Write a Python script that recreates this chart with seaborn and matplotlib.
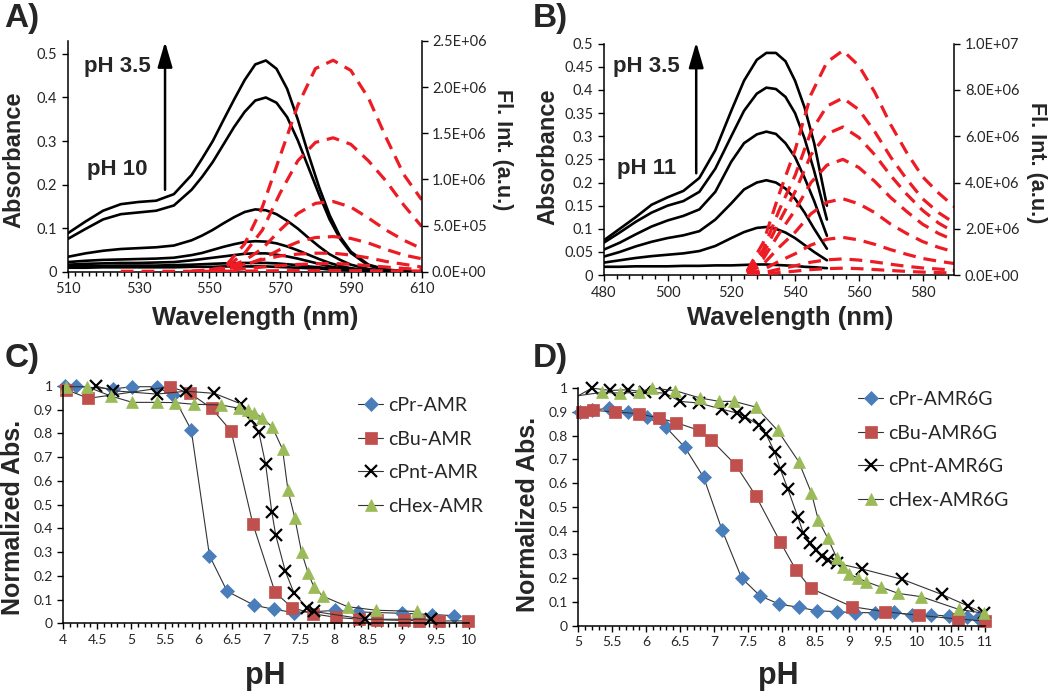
import numpy as np
import matplotlib
matplotlib.use("Agg")
import matplotlib.pyplot as plt
from matplotlib.lines import Line2D
from matplotlib.ticker import MultipleLocator, FuncFormatter
import seaborn as sns

# ---------------- Panel A: absorbance / emission spectra ----------------
wl_a = [510, 515, 520, 525, 530, 535, 540,
        545, 548, 551, 554, 557, 560, 563, 566, 569, 572, 575, 578, 581, 584, 587, 590,
        595, 600, 605, 610]
abs_a = [
    [0.088, 0.115, 0.140, 0.155, 0.160, 0.163, 0.178,
     0.222, 0.260, 0.300, 0.348, 0.395, 0.440, 0.476, 0.485, 0.466, 0.420, 0.350,
     0.270, 0.195, 0.130, 0.080, 0.046, 0.016, 0.005, 0.001, 0.0],
    [0.075, 0.098, 0.120, 0.132, 0.136, 0.140, 0.152,
     0.188, 0.218, 0.252, 0.292, 0.332, 0.367, 0.393, 0.400, 0.388, 0.355, 0.302,
     0.240, 0.178, 0.120, 0.075, 0.043, 0.014, 0.004, 0.001, 0.0],
    [0.034, 0.042, 0.048, 0.052, 0.054, 0.056, 0.060,
     0.072, 0.083, 0.096, 0.111, 0.125, 0.137, 0.143, 0.141, 0.132, 0.117, 0.099,
     0.078, 0.058, 0.040, 0.027, 0.016, 0.006, 0.002, 0.001, 0.0],
    [0.022, 0.025, 0.027, 0.028, 0.029, 0.030, 0.032,
     0.038, 0.043, 0.050, 0.057, 0.063, 0.068, 0.070, 0.069, 0.065, 0.058, 0.049,
     0.039, 0.029, 0.020, 0.013, 0.008, 0.003, 0.001, 0.0, 0.0],
    [0.016, 0.018, 0.019, 0.020, 0.020, 0.021, 0.022,
     0.026, 0.029, 0.032, 0.035, 0.038, 0.041, 0.042, 0.042, 0.039, 0.035, 0.030,
     0.024, 0.018, 0.012, 0.008, 0.005, 0.002, 0.001, 0.0, 0.0],
    [0.012, 0.013, 0.013, 0.014, 0.014, 0.014, 0.015,
     0.016, 0.017, 0.018, 0.019, 0.019, 0.020, 0.020, 0.020, 0.019, 0.017, 0.015,
     0.012, 0.010, 0.007, 0.005, 0.004, 0.002, 0.001, 0.0, 0.0],
    [0.009, 0.009, 0.010, 0.010, 0.010, 0.010, 0.010,
     0.011, 0.011, 0.011, 0.012, 0.012, 0.012, 0.012, 0.012, 0.011, 0.010, 0.009,
     0.008, 0.007, 0.005, 0.004, 0.003, 0.001, 0.0, 0.0, 0.0],
]
fl_wl_a = [525, 530, 535, 540, 545, 550, 555, 560, 565, 570, 575,
           580, 585, 590, 595, 600, 605, 610]
N = None
fl_a = [  # x 1e6
    [N, N, N, N, N, N, 0.08, 0.30, 0.70, 1.25, 1.80, 2.20, 2.29, 2.18, 1.88, 1.45, 1.05, 0.78],
    [N, N, N, N, N, N, 0.06, 0.20, 0.45, 0.85, 1.20, 1.40, 1.45, 1.38, 1.20, 0.98, 0.72, 0.49],
    [N, N, N, N, N, 0.02, 0.05, 0.12, 0.25, 0.45, 0.63, 0.74, 0.76, 0.70, 0.58, 0.45, 0.34, 0.25],
    [N, N, N, N, N, 0.01, 0.03, 0.07, 0.14, 0.24, 0.32, 0.37, 0.38, 0.36, 0.31, 0.24, 0.18, 0.14],
    [N, N, N, N, 0.005, 0.02, 0.04, 0.08, 0.13, 0.17, 0.19, 0.20, 0.20, 0.18, 0.15, 0.11, 0.08, 0.05],
    [N, N, N, N, 0.003, 0.008, 0.015, 0.03, 0.05, 0.065, 0.078, 0.085, 0.088, 0.08, 0.065, 0.05, 0.035, 0.022],
    [0.004, 0.004, 0.004, 0.004, 0.004, 0.004, 0.005, 0.006, 0.008, 0.010, 0.011,
     0.012, 0.012, 0.011, 0.010, 0.009, 0.008, 0.007],
]

# ---------------- Panel B ----------------
wl_b = [480, 485, 490, 495, 500, 505, 510, 515, 520, 524, 528,
        531, 534, 537, 540, 543, 546, 550]
abs_b = [
    [0.075, 0.100, 0.125, 0.152, 0.168, 0.182, 0.210, 0.270, 0.355, 0.420, 0.465,
     0.480, 0.480, 0.462, 0.420, 0.362, 0.285, 0.150],
    [0.070, 0.092, 0.115, 0.135, 0.150, 0.160, 0.180, 0.230, 0.300, 0.355, 0.392,
     0.405, 0.402, 0.385, 0.350, 0.295, 0.225, 0.120],
    [0.055, 0.070, 0.088, 0.105, 0.118, 0.128, 0.142, 0.180, 0.245, 0.285, 0.304,
     0.310, 0.305, 0.285, 0.255, 0.210, 0.160, 0.085],
    [0.040, 0.050, 0.062, 0.072, 0.080, 0.086, 0.095, 0.120, 0.155, 0.185, 0.200,
     0.205, 0.200, 0.187, 0.165, 0.135, 0.100, 0.057],
    [0.027, 0.032, 0.037, 0.041, 0.044, 0.047, 0.052, 0.063, 0.080, 0.093, 0.102,
     0.104, 0.100, 0.092, 0.080, 0.065, 0.050, 0.032],
    [0.018, 0.018, 0.019, 0.019, 0.019, 0.020, 0.020, 0.021, 0.021, 0.022, 0.023,
     0.023, 0.022, 0.021, 0.020, 0.018, 0.017, 0.015],
]
fl_wl_b = [525, 530, 535, 540, 545, 550, 555, 560, 565, 570, 575, 580, 585, 590]
fl_b = [  # x 1e6
    [0.20, 1.40, 3.50, 5.40, 7.80, 9.20, 9.70, 9.05, 7.90, 6.50, 5.30, 4.25, 3.55, 2.95],
    [0.15, 1.10, 2.80, 4.30, 6.20, 7.30, 7.65, 7.15, 6.20, 5.10, 4.15, 3.30, 2.70, 2.25],
    [0.13, 0.90, 2.30, 3.60, 5.20, 6.10, 6.40, 5.95, 5.20, 4.30, 3.50, 2.80, 2.25, 1.85],
    [0.10, 0.70, 1.80, 2.80, 4.00, 4.75, 5.00, 4.65, 4.05, 3.35, 2.75, 2.20, 1.80, 1.50],
    [0.07, 0.47, 1.20, 1.85, 2.65, 3.15, 3.30, 3.08, 2.70, 2.20, 1.80, 1.45, 1.20, 1.00],
    [0.04, 0.23, 0.60, 0.92, 1.30, 1.55, 1.63, 1.52, 1.33, 1.10, 0.90, 0.72, 0.60, 0.50],
    [0.02, 0.10, 0.26, 0.40, 0.56, 0.66, 0.70, 0.65, 0.57, 0.47, 0.38, 0.31, 0.26, 0.21],
    [0.01, 0.04, 0.11, 0.17, 0.24, 0.28, 0.30, 0.28, 0.24, 0.20, 0.16, 0.13, 0.11, 0.09],
]

# ---------------- Panel C: pH titration (AMR) ----------------
c_names = ["cPr-AMR", "cBu-AMR", "cPnt-AMR", "cHex-AMR"]
c_ph = [
    [4.02, 4.19, 4.74, 5.02, 5.38, 5.62, 5.89, 6.16, 6.42, 6.82, 7.11, 7.41,
     8.02, 8.35, 9.0, 9.45, 9.77],
    [4.04, 4.37, 5.57, 5.87, 6.19, 6.48, 6.8, 7.13, 7.38, 7.69, 8.03, 8.37,
     8.63, 9.03, 9.25, 9.55, 9.98],
    [4.48, 4.74, 5.38, 5.82, 6.23, 6.63, 6.77, 6.89, 6.99, 7.08, 7.14, 7.28,
     7.41, 7.6, 7.7, 8.46, 9.44],
    [4.04, 4.35, 4.7, 5.02, 5.38, 5.65, 5.93, 6.33, 6.6, 6.73, 6.82, 6.94,
     7.09, 7.24, 7.32, 7.42, 7.52, 7.62, 7.7, 7.83, 8.2, 8.62, 9.22],
]
c_val = [
    [1.0, 0.998, 0.988, 0.997, 0.997, 0.96, 0.815, 0.285, 0.135, 0.076, 0.059, 0.045,
     0.054, 0.048, 0.042, 0.037, 0.032],
    [0.985, 0.948, 0.997, 0.97, 0.906, 0.81, 0.42, 0.13, 0.066, 0.04, 0.025, 0.017,
     0.015, 0.012, 0.011, 0.01, 0.01],
    [1.0, 0.98, 0.966, 0.978, 0.969, 0.924, 0.857, 0.805, 0.67, 0.47, 0.37, 0.22,
     0.127, 0.065, 0.05, 0.017, 0.017],
    [0.997, 0.997, 0.958, 0.931, 0.931, 0.93, 0.923, 0.92, 0.906, 0.9, 0.888, 0.866,
     0.826, 0.733, 0.56, 0.445, 0.3, 0.21, 0.155, 0.115, 0.07, 0.055, 0.05],
]

# ---------------- Panel D: pH titration (AMR6G) ----------------
d_names = ["cPr-AMR6G", "cBu-AMR6G", "cPnt-AMR6G", "cHex-AMR6G"]
d_ph = [
    [5.02, 5.2, 5.45, 5.74, 6.01, 6.29, 6.57, 6.85, 7.12, 7.41, 7.68, 7.96, 8.26,
     8.52, 8.81, 9.08, 9.37, 9.65, 9.92, 10.2, 10.47, 10.74, 10.9],
    [5.06, 5.22, 5.54, 5.89, 6.19, 6.44, 6.78, 6.96, 7.32, 7.62, 7.98, 8.21, 8.43,
     9.04, 9.52, 10.02, 10.6, 11.0],
    [4.9, 5.2, 5.47, 5.74, 5.99, 6.28, 6.5, 6.78, 7.12, 7.34, 7.46, 7.66, 7.77, 7.9,
     7.98, 8.09, 8.24, 8.32, 8.42, 8.5, 8.59, 8.69, 8.81, 9.18, 9.78, 10.36, 10.75, 10.98],
    [4.9, 5.35, 5.61, 5.89, 6.09, 6.43, 6.8, 7.08, 7.3, 7.62, 7.94, 8.25, 8.44, 8.54,
     8.68, 8.81, 8.91, 8.99, 9.13, 9.25, 9.47, 9.72, 10.06, 10.61, 10.99],
]
d_val = [
    [0.90, 0.906, 0.916, 0.90, 0.878, 0.836, 0.751, 0.624, 0.403, 0.20, 0.126, 0.091,
     0.077, 0.063, 0.059, 0.055, 0.055, 0.056, 0.045, 0.045, 0.041, 0.035, 0.031],
    [0.90, 0.906, 0.90, 0.892, 0.874, 0.855, 0.822, 0.782, 0.677, 0.546, 0.352, 0.235,
     0.157, 0.08, 0.059, 0.044, 0.028, 0.02],
    [0.952, 1.0, 0.99, 0.993, 0.982, 0.979, 0.944, 0.937, 0.911, 0.895, 0.88, 0.845,
     0.806, 0.729, 0.659, 0.576, 0.456, 0.389, 0.347, 0.319, 0.294, 0.277, 0.263,
     0.239, 0.195, 0.132, 0.083, 0.052],
    [0.964, 0.982, 0.979, 0.982, 1.0, 0.989, 0.958, 0.944, 0.944, 0.92, 0.822, 0.691,
     0.558, 0.445, 0.368, 0.287, 0.246, 0.218, 0.2, 0.185, 0.162, 0.136, 0.122,
     0.069, 0.052],
]

series_style = [("D", "#4A7EBB", 7.0), ("s", "#C0504D", 8.0),
                ("x", "#000000", 8.5), ("^", "#9BBB59", 9.0)]

# ---------------- figure ----------------
sns.set_theme(style="white")
plt.rcParams['font.family'] = ['Lato', 'DejaVu Sans']
BOLD = ['Liberation Sans', 'DejaVu Sans']
TXT = '#262626'
RED = '#ED1C24'
W, H = 1050, 693

fig = plt.figure(figsize=(10.5, 6.93), dpi=100)


def px_text(x, y, s, size, rot=0):
    fig.text(x / W, 1 - y / H, s, fontsize=size, fontweight='bold', family=BOLD,
             color=TXT, rotation=rot, ha='center', va='center')


def style_axis(ax):
    for side in ['top', 'right']:
        ax.spines[side].set_visible(False)
    for side in ['left', 'bottom']:
        ax.spines[side].set_color('black')
        ax.spines[side].set_linewidth(1.1)
    ax.tick_params(which='both', direction='out', color='black', width=1.0,
                   left=True, bottom=True, labelcolor=TXT)
    ax.tick_params(which='major', length=4)
    ax.tick_params(which='minor', length=3)


def spectra_panel(rect, wl, abs_curves, fl_wl, fl_curves, xlim, ylim, flmax,
                  xmaj, xmin, ymaj, flmaj):
    ax = fig.add_axes(rect)
    for curve in abs_curves:
        sns.lineplot(x=wl, y=curve, ax=ax, color='black', linewidth=1.9,
                     legend=False, sort=False)
    ax.set_xlim(*xlim)
    ax.set_ylim(*ylim)
    style_axis(ax)
    ax.set_xticks(np.arange(xlim[0], xlim[1] + 0.1, xmaj))
    ax.set_xticks(np.arange(xlim[0], xlim[1] + 0.1, xmin), minor=True)
    ax.xaxis.set_major_formatter(FuncFormatter(lambda v, _: f"{v:g}"))
    ax.yaxis.set_major_locator(MultipleLocator(ymaj))
    ax.yaxis.set_major_formatter(FuncFormatter(lambda v, _: f"{v:g}"))
    ax.tick_params(labelsize=10.5)
    ax.set_xlabel('')
    ax.set_ylabel('')

    axr = ax.twinx()
    fl_x = np.array(fl_wl, dtype=float)
    for curve in fl_curves:
        y = np.array([np.nan if v is None else v for v in curve], dtype=float) * 1e6
        ok = ~np.isnan(y)
        sns.lineplot(x=fl_x[ok], y=y[ok], ax=axr, color=RED, linewidth=2.3,
                     linestyle=(0, (4, 2.5)), legend=False, sort=False)
    axr.set_ylim(0, flmax)
    for side in ['top', 'left', 'bottom']:
        axr.spines[side].set_visible(False)
    axr.spines['right'].set_visible(True)
    axr.spines['right'].set_color('black')
    axr.spines['right'].set_linewidth(1.1)
    axr.yaxis.set_major_locator(MultipleLocator(flmaj))
    axr.yaxis.set_major_formatter(FuncFormatter(lambda v, _: f"{v:.1E}"))
    axr.tick_params(axis='y', which='major', direction='out', right=True, length=4,
                    width=1.0, color='black', labelsize=10.5, labelcolor=TXT)
    axr.grid(False)
    ax.grid(False)
    axr.set_ylabel('')
    return ax


ARROW = dict(arrowstyle='-|>,head_length=0.55,head_width=0.16',
             lw=1.8, color='black', mutation_scale=28, shrinkA=0, shrinkB=0)

# Panel A
ax_a = spectra_panel([0.0645, 0.608, 0.337, 0.333], wl_a, abs_a, fl_wl_a, fl_a,
                     (510, 610), (0, 0.53), 2.5e6, 20, 2, 0.1, 5e5)
ax_a.annotate('', xy=(537.5, 0.528), xytext=(537.5, 0.188), annotation_clip=False,
              arrowprops=ARROW)
ax_a.text(524, 0.472, 'pH 3.5', fontsize=16, fontweight='bold', family=BOLD,
          color=TXT, ha='center', va='center')
ax_a.text(524, 0.234, 'pH 10', fontsize=16, fontweight='bold', family=BOLD,
          color=TXT, ha='center', va='center')

# Panel B
ax_b = spectra_panel([0.575, 0.603, 0.334, 0.334], wl_b, abs_b, fl_wl_b, fl_b,
                     (480, 590), (0, 0.5), 1.0e7, 20, 4, 0.05, 2e6)
ax_b.annotate('', xy=(509, 0.503), xytext=(509, 0.22), annotation_clip=False,
              arrowprops=ARROW)
ax_b.text(493.5, 0.45, 'pH 3.5', fontsize=16, fontweight='bold', family=BOLD,
          color=TXT, ha='center', va='center')
ax_b.text(493.5, 0.23, 'pH 11', fontsize=16, fontweight='bold', family=BOLD,
          color=TXT, ha='center', va='center')


def titration_panel(rect, ph_sets, val_sets, names, xlim, legend_xy):
    ax = fig.add_axes(rect)
    handles = []
    for ph, val, name, (mk, col, ms) in zip(ph_sets, val_sets, names, series_style):
        ph = np.array(ph)
        val = np.array(val)
        sns.lineplot(x=ph, y=val, ax=ax, color='#333333', linewidth=0.8,
                     legend=False, sort=False)
        inside = ph >= xlim[0]
        mew = 1.6 if mk == 'x' else 0.5
        sns.lineplot(x=ph[inside], y=val[inside], ax=ax, linestyle='', marker=mk,
                     markersize=ms, markerfacecolor=col, markeredgecolor=col,
                     markeredgewidth=mew, clip_on=False, legend=False, sort=False)
        handles.append(Line2D([], [], color='#333333', lw=0.8, marker=mk, markersize=ms,
                              markerfacecolor=col, markeredgecolor=col,
                              markeredgewidth=mew, label=name))
    ax.set_xlim(*xlim)
    ax.set_ylim(0, 1)
    style_axis(ax)
    ax.xaxis.set_major_locator(MultipleLocator(0.5))
    ax.xaxis.set_minor_locator(MultipleLocator(0.1))
    ax.yaxis.set_major_locator(MultipleLocator(0.1))
    ax.xaxis.set_major_formatter(FuncFormatter(lambda v, _: f"{v:g}"))
    ax.yaxis.set_major_formatter(FuncFormatter(lambda v, _: f"{v:g}"))
    ax.tick_params(labelsize=10)
    ax.grid(False)
    ax.set_xlabel('')
    ax.set_ylabel('')
    ax.legend(handles=handles, loc='upper left', frameon=False, fontsize=14,
              bbox_to_anchor=(legend_xy[0] / W, 1 - legend_xy[1] / H),
              bbox_transform=fig.transFigure, borderpad=0, borderaxespad=0,
              handlelength=1.3, handletextpad=0.25, labelspacing=0.85,
              labelcolor=TXT)
    return ax


ax_c = titration_panel([0.0603, 0.1006, 0.3867, 0.3424], c_ph, c_val, c_names,
                       (4, 10), (358, 397))
ax_d = titration_panel([0.5508, 0.0971, 0.3873, 0.3429], d_ph, d_val, d_names,
                       (5, 11), (858, 391))

# axis titles and panel letters
px_text(13.5, 160, 'Absorbance', 17, 90)
px_text(255, 318, 'Wavelength (nm)', 18.5)
px_text(503, 150, 'Fl. Int. (a.u.)', 15.5, 270)
px_text(547.5, 157, 'Absorbance', 17, 90)
px_text(790, 318, 'Wavelength (nm)', 18.5)
px_text(1037, 163, 'Fl. Int. (a.u.)', 15.5, 270)
px_text(13, 517, 'Normalized Abs.', 18, 90)
px_text(265, 676, 'pH', 22)
px_text(528, 514, 'Normalized Abs.', 18, 90)
px_text(778, 676, 'pH', 22)
px_text(22, 18, 'A)', 24)
px_text(550, 18, 'B)', 24)
px_text(22, 358, 'C)', 24)
px_text(550, 359, 'D)', 24)

fig.savefig('out.png', dpi=100)
